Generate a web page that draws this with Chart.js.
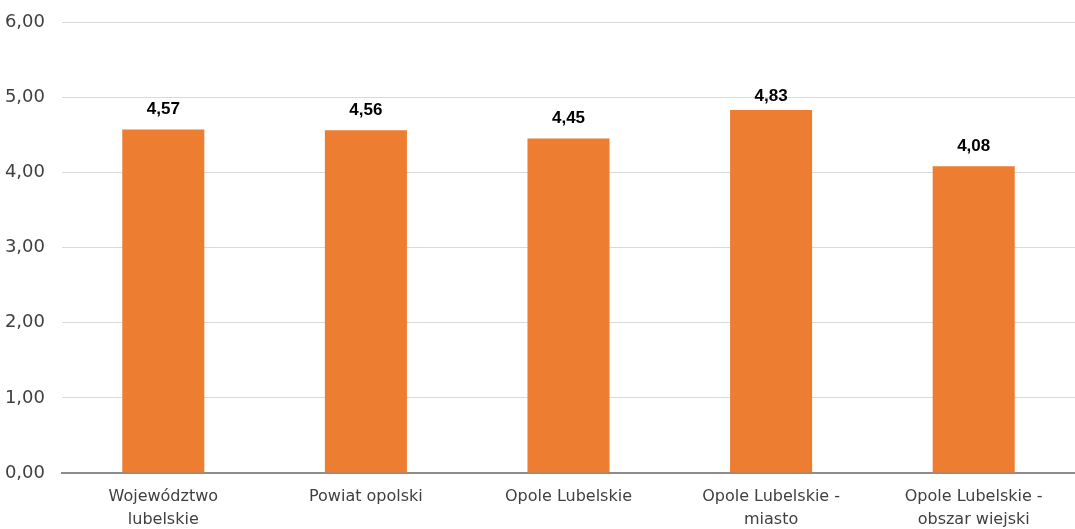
<!DOCTYPE html>
<html>
<head>
<meta charset="utf-8">
<script src="https://cdn.jsdelivr.net/npm/chart.js@4.4.0/dist/chart.umd.min.js"></script>
<style>
  html, body { margin: 0; padding: 0; background: #fff; }
  #wrap { width: 1075px; height: 529px; position: relative; }
</style>
</head>
<body>
<div id="wrap"><canvas id="chart"></canvas></div>
<script>
// Data
const categories = [
  ['Województwo', 'lubelskie'],
  'Powiat opolski',
  'Opole Lubelskie',
  ['Opole Lubelskie -', 'miasto'],
  ['Opole Lubelskie -', 'obszar wiejski']
];
const values = [4.57, 4.56, 4.45, 4.83, 4.08];
const yTicks = [0, 1, 2, 3, 4, 5, 6];

const fmt = v => v.toFixed(2).replace('.', ',');

// Draw value labels above bars
const barLabels = {
  id: 'barLabels',
  afterDatasetsDraw(chart) {
    const ctx = chart.ctx;
    const meta = chart.getDatasetMeta(0);
    ctx.save();
    ctx.font = 'bold 17px "Liberation Sans", Arial, sans-serif';
    ctx.fillStyle = '#000';
    ctx.textAlign = 'center';
    ctx.textBaseline = 'middle';
    meta.data.forEach((bar, i) => {
      ctx.fillText(fmt(values[i]), bar.x, Math.max(bar.y - 20, 96));
    });
    ctx.restore();
  }
};

new Chart(document.getElementById('chart'), {
  type: 'bar',
  data: {
    labels: categories,
    datasets: [{
      data: values,
      backgroundColor: '#ED7D31',
      categoryPercentage: 1,
      barPercentage: 0.405
    }]
  },
  options: {
    responsive: true,
    maintainAspectRatio: false,
    animation: false,
    layout: { padding: { top: 22, right: 0, left: 0, bottom: 0 } },
    plugins: {
      legend: { display: false },
      tooltip: { enabled: false }
    },
    scales: {
      x: {
        grid: { display: false },
        border: { display: true, color: '#8c8c8c', width: 2 },
        afterFit(scale) { scale.height = 56; },
        ticks: {
          color: '#404040',
          font: { family: '"DejaVu Sans", sans-serif', size: 16, lineHeight: 1.4 },
          padding: 5,
          maxRotation: 0
        }
      },
      y: {
        min: 0,
        max: 6,
        afterFit(scale) {
          scale.width = 62;
          scale.paddingTop = 0;
          scale.paddingBottom = 0;
        },
        afterBuildTicks(scale) { scale.ticks = yTicks.map(v => ({ value: v })); },
        border: { display: false },
        grid: { color: '#d9d9d9', lineWidth: 1, drawTicks: false },
        ticks: {
          color: '#404040',
          font: { family: '"DejaVu Sans", sans-serif', size: 18 },
          padding: 17,
          callback: v => fmt(v)
        }
      }
    }
  },
  plugins: [barLabels]
});
</script>
</body>
</html>
